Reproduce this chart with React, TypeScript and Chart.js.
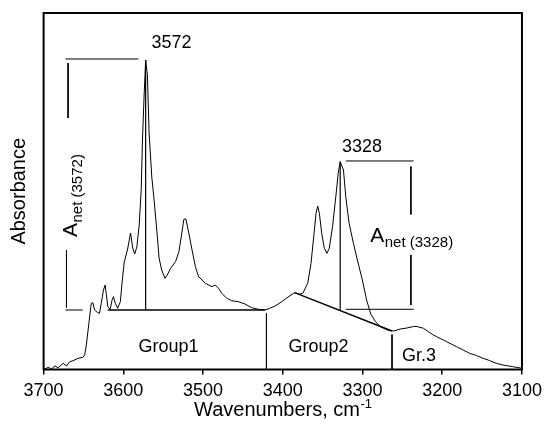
import React, { useEffect, useRef } from "react";
import { Chart, registerables } from "chart.js";

Chart.register(...registerables);

// Spectrum (wavenumber, cm-1) and absorbance (arbitrary units)
const wavenumbers = [
  3700.0, 3698.3, 3694.2, 3689.9, 3685.8, 3681.7, 3675.5, 3671.3, 3667.2, 3663.1,
  3656.8, 3650.6, 3648.5, 3646.4, 3643.2, 3640.2, 3638.2, 3636.1, 3632.0, 3629.9,
  3627.7, 3624.9, 3622.8, 3621.5, 3619.5, 3616.5, 3614.1, 3612.4, 3610.0, 3607.1,
  3603.7, 3601.9, 3598.8, 3594.6, 3590.9, 3588.2, 3585.7, 3583.0, 3580.1, 3577.6,
  3576.0, 3573.9, 3572.0, 3569.8, 3567.7, 3564.3, 3561.4, 3557.3, 3555.2, 3551.9,
  3547.8, 3544.9, 3540.7, 3534.5, 3530.3, 3527.0, 3524.1, 3521.6, 3517.9, 3513.8,
  3509.6, 3505.5, 3497.1, 3488.9, 3484.7, 3480.6, 3476.5, 3470.3, 3464.1, 3455.7,
  3447.4, 3439.2, 3430.8, 3422.5, 3416.3, 3409.7, 3401.9, 3393.5, 3385.2, 3379.0,
  3374.9, 3368.7, 3364.6, 3361.2, 3358.3, 3356.2, 3354.1, 3351.2, 3347.9, 3344.6,
  3341.7, 3337.6, 3333.5, 3330.5, 3328.0, 3323.9, 3321.0, 3316.8, 3311.4, 3306.5,
  3300.2, 3294.9, 3289.7, 3283.7, 3277.5, 3269.2, 3260.8, 3252.6, 3244.3, 3236.0,
  3231.8, 3223.5, 3217.3, 3211.1, 3207.0, 3198.6, 3194.5, 3186.2, 3182.1, 3173.8,
  3165.6, 3157.2, 3148.9, 3140.7, 3132.3, 3124.0, 3111.6, 3100.0,
];
const absorbance = [
  0.0028, 0.0014, 0.0062, 0.0014, 0.0098, 0.005, 0.0174, 0.0098, 0.0219, 0.0247,
  0.0314, 0.0342, 0.0407, 0.0687, 0.1296, 0.1857, 0.1874, 0.1669, 0.1593, 0.1576,
  0.1857, 0.223, 0.237, 0.2137, 0.1762, 0.1689, 0.1949, 0.2042, 0.1857, 0.1717,
  0.1902, 0.237, 0.3015, 0.338, 0.3829, 0.3408, 0.324, 0.3445, 0.4053, 0.5035,
  0.6438, 0.77, 0.8682, 0.8261, 0.6634, 0.54, 0.4755, 0.3717, 0.3128, 0.2791,
  0.2558, 0.2651, 0.2839, 0.3024, 0.3304, 0.3773, 0.4213, 0.4222, 0.3829, 0.3352,
  0.2884, 0.2603, 0.2418, 0.2323, 0.237, 0.2278, 0.2137, 0.1997, 0.193, 0.1902,
  0.1837, 0.1734, 0.1689, 0.1669, 0.1717, 0.1781, 0.1893, 0.2034, 0.2154, 0.2118,
  0.2137, 0.2418, 0.2979, 0.3725, 0.4381, 0.4586, 0.4381, 0.382, 0.34, 0.3259,
  0.34, 0.4006, 0.4847, 0.5503, 0.5829, 0.5596, 0.4847, 0.4101, 0.354, 0.3072,
  0.2511, 0.195, 0.1557, 0.1341, 0.1201, 0.1108, 0.108, 0.1136, 0.1164, 0.1206,
  0.1206, 0.1156, 0.106, 0.0968, 0.092, 0.0827, 0.078, 0.0687, 0.064, 0.0547,
  0.0454, 0.0393, 0.0314, 0.0252, 0.0174, 0.0126, 0.0079, 0.0034,
];

// Annotation segments: [wnStart, absStart, wnEnd, absEnd]
const segments = [
  [3619.5, 0.1669, 3422.5, 0.1669],
  [3572.0, 0.8682, 3572.0, 0.1669],
  [3385.2, 0.2154, 3263.0, 0.108],
  [3328.0, 0.5829, 3328.0, 0.1651],
  [3420.5, 0.158, 3420.5, 0.0],
  [3263.0, 0.098, 3263.0, 0.0],
  [3672.5, 0.871, 3581.0, 0.871],
  [3669.3, 0.8597, 3669.3, 0.7055],
  [3671.3, 0.335, 3671.3, 0.174],
  [3672.5, 0.1669, 3651.0, 0.1669],
  [3321.0, 0.5849, 3235.9, 0.5849],
  [3239.3, 0.5694, 3239.3, 0.4348],
  [3239.3, 0.3212, 3239.3, 0.1809],
  [3321.0, 0.1689, 3235.9, 0.1689],
];
const segmentWidths = [1.4, 1.2, 1.4, 1.2, 1, 1, 1, 1, 1, 1, 1, 1, 1, 1];

// Text labels
const labelTexts = ["3572", "3328", "Group1", "Group2", "Gr.3"];
const labelWn = [3539.7, 3300.6, 3543.2, 3355.2, 3229.3];
const labelAbs = [0.9018, 0.6101, 0.0499, 0.0499, 0.0238];

// A_net labels
const netTexts = ["net (3572)", "net (3328)"];
const netWn = [3658.5, 3290.3];
const netAbs = [0.3717, 0.359];
const netRotated = [true, false];

const xTicks = [3700, 3600, 3500, 3400, 3300, 3200, 3100];
const xTitle = "Wavenumbers, cm";
const xTitleSup = "-1";
const yTitle = "Absorbance";

const FONT = "'Liberation Sans', Arial, Helvetica, sans-serif";

const overlayPlugin = {
  id: "overlay",
  afterDraw(chart: any) {
    const { ctx, chartArea, scales } = chart;
    const xs = scales.x;
    const ys = scales.y;
    ctx.save();
    // frame
    ctx.strokeStyle = "#000";
    ctx.lineWidth = 2;
    ctx.strokeRect(
      chartArea.left,
      chartArea.top,
      chartArea.right - chartArea.left,
      chartArea.bottom - chartArea.top
    );
    ctx.fillStyle = "#000";
    // text labels
    ctx.font = `18px ${FONT}`;
    ctx.textAlign = "center";
    ctx.textBaseline = "alphabetic";
    labelTexts.forEach((t, i) => {
      ctx.fillText(t, xs.getPixelForValue(labelWn[i]), ys.getPixelForValue(labelAbs[i]));
    });
    // A_net labels
    netTexts.forEach((t, i) => {
      const px = xs.getPixelForValue(netWn[i]);
      const py = ys.getPixelForValue(netAbs[i]);
      ctx.save();
      ctx.translate(px, py);
      if (netRotated[i]) ctx.rotate(-Math.PI / 2);
      ctx.textAlign = "left";
      ctx.textBaseline = "alphabetic";
      ctx.font = `21px ${FONT}`;
      ctx.fillText("A", 0, 0);
      const w = ctx.measureText("A").width;
      ctx.font = `15px ${FONT}`;
      ctx.fillText(t, w + 0.5, 5);
      ctx.restore();
    });
    // x axis title with superscript
    ctx.font = `20px ${FONT}`;
    const w1 = ctx.measureText(xTitle).width;
    ctx.font = `13px ${FONT}`;
    const w2 = ctx.measureText(xTitleSup).width;
    const cx = (chartArea.left + chartArea.right) / 2;
    const startX = cx - (w1 + w2) / 2;
    const baseY = chart.height - 11;
    ctx.textAlign = "left";
    ctx.font = `20px ${FONT}`;
    ctx.fillText(xTitle, startX, baseY);
    ctx.font = `13px ${FONT}`;
    ctx.fillText(xTitleSup, startX + w1 + 0.5, baseY - 8);
    ctx.restore();
  },
};

export default function App() {
  const canvasRef = useRef<HTMLCanvasElement | null>(null);

  useEffect(() => {
    document.body.style.margin = "0";
    const canvas = canvasRef.current;
    if (!canvas) return;

    const datasets: any[] = [
      {
        label: "spectrum",
        data: wavenumbers.map((w, i) => ({ x: w, y: absorbance[i] })),
        borderColor: "#000",
        borderWidth: 1,
        pointRadius: 0,
        tension: 0,
        fill: false,
      },
      ...segments.map((s, i) => ({
        label: "seg" + i,
        data: [
          { x: s[0], y: s[1] },
          { x: s[2], y: s[3] },
        ],
        borderColor: "#000",
        borderWidth: segmentWidths[i],
        pointRadius: 0,
        tension: 0,
        fill: false,
      })),
    ];

    const chart = new Chart(canvas, {
      type: "line",
      data: { datasets },
      options: {
        responsive: false,
        animation: false,
        layout: { padding: { left: 0, right: 22, top: 13, bottom: 0 } },
        plugins: {
          legend: { display: false },
          tooltip: { enabled: false },
        },
        scales: {
          x: {
            type: "linear",
            reverse: true,
            min: 3100,
            max: 3700,
            afterBuildTicks: (scale: any) => {
              scale.ticks = xTicks.map((v) => ({ value: v }));
            },
            afterFit: (scale: any) => {
              scale.height = 57.5;
            },
            ticks: {
              color: "#000",
              padding: 6,
              maxRotation: 0,
              autoSkip: false,
              font: { family: FONT, size: 18 },
              callback: (v: any) => String(v),
            },
            grid: {
              display: true,
              drawOnChartArea: false,
              drawTicks: true,
              tickLength: 5,
              color: "#000",
              lineWidth: 1.5,
            },
            border: { display: false },
          },
          y: {
            type: "linear",
            min: 0,
            max: 1,
            afterFit: (scale: any) => {
              scale.width = 43.6;
            },
            ticks: { display: false },
            grid: { display: false },
            border: { display: false },
            title: {
              display: true,
              text: yTitle,
              color: "#000",
              font: { family: FONT, size: 20 },
              padding: { top: 7, bottom: 0 },
            },
          },
        },
      },
      plugins: [overlayPlugin],
    });

    return () => chart.destroy();
  }, []);

  return (
    <div style={{ width: 548, height: 427 }}>
      <canvas ref={canvasRef} width={548} height={427} />
    </div>
  );
}
